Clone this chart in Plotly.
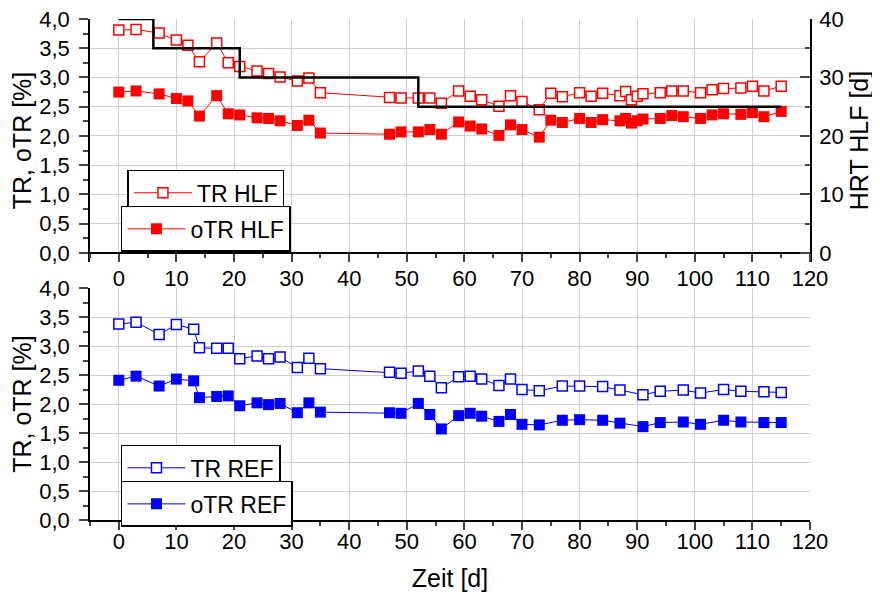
import plotly.graph_objects as go

# ---------------- data ----------------
hlf_days = [0, 3, 7, 10, 12, 14, 17, 19, 21, 24, 26, 28, 31, 33, 35, 47, 49, 52, 54, 56,
            59, 61, 63, 66, 68, 70, 73, 75, 77, 80, 82, 84, 87, 88, 89, 90, 91, 94, 96, 98,
            101, 103, 105, 108, 110, 112, 115]
tr_hlf = [3.81, 3.82, 3.76, 3.64, 3.55, 3.27, 3.59, 3.25, 3.19, 3.11, 3.07, 3.01, 2.94, 2.99, 2.74,
          2.66, 2.65, 2.65, 2.65, 2.56, 2.77, 2.68, 2.62, 2.51, 2.69, 2.59, 2.45, 2.73, 2.67, 2.74,
          2.68, 2.73, 2.69, 2.76, 2.62, 2.68, 2.72, 2.74, 2.77, 2.77, 2.74, 2.79, 2.81, 2.82, 2.85,
          2.77, 2.85]
otr_hlf = [2.75, 2.77, 2.72, 2.64, 2.60, 2.34, 2.69, 2.38, 2.36, 2.31, 2.30, 2.26, 2.18, 2.27, 2.05,
           2.03, 2.07, 2.07, 2.11, 2.03, 2.24, 2.17, 2.12, 2.01, 2.19, 2.11, 1.98, 2.27, 2.23, 2.30,
           2.23, 2.28, 2.26, 2.30, 2.22, 2.26, 2.29, 2.30, 2.35, 2.33, 2.30, 2.36, 2.38, 2.37, 2.40,
           2.33, 2.42]

hrt_days = [0, 6, 21, 52, 115]
hrt_vals = [40, 35, 30, 25, 25]

ref_days = [0, 3, 7, 10, 13, 14, 17, 19, 21, 24, 26, 28, 31, 33, 35, 47, 49, 52, 54, 56,
            59, 61, 63, 66, 68, 70, 73, 77, 80, 84, 87, 91, 94, 98, 101, 105, 108, 112, 115]
tr_ref = [3.38, 3.41, 3.20, 3.37, 3.29, 2.97, 2.96, 2.96, 2.78, 2.83, 2.78, 2.81, 2.63, 2.79, 2.61,
          2.55, 2.53, 2.57, 2.48, 2.28, 2.47, 2.48, 2.43, 2.32, 2.43, 2.25, 2.23, 2.31, 2.31,
          2.30, 2.24, 2.16, 2.22, 2.24, 2.19, 2.25, 2.22, 2.21, 2.20]
otr_ref = [2.41, 2.48, 2.31, 2.43, 2.40, 2.11, 2.13, 2.14, 1.97, 2.02, 1.99, 2.01, 1.85, 2.02, 1.86,
           1.85, 1.84, 2.01, 1.82, 1.57, 1.80, 1.84, 1.79, 1.70, 1.82, 1.65, 1.64, 1.72, 1.73,
           1.72, 1.67, 1.61, 1.68, 1.69, 1.65, 1.72, 1.69, 1.68, 1.68]

x_ticks = list(range(0, 121, 10))
RED = "#ff0000"
BLUE = "#0000ff"
FONT = "Liberation Sans, Arial, sans-serif"

fig = go.Figure()

fig.add_trace(go.Scatter(x=hlf_days, y=tr_hlf, mode="lines+markers", name="TR HLF",
                         xaxis="x", yaxis="y", legend="legend",
                         line=dict(color=RED, width=1),
                         marker=dict(symbol="square", size=10, color="white",
                                     line=dict(color=RED, width=1.5))))
fig.add_trace(go.Scatter(x=hlf_days, y=otr_hlf, mode="lines+markers", name="oTR HLF",
                         xaxis="x", yaxis="y", legend="legend2",
                         line=dict(color=RED, width=1),
                         marker=dict(symbol="square", size=11, color=RED,
                                     line=dict(color=RED, width=0))))
fig.add_trace(go.Scatter(x=hrt_days, y=hrt_vals, mode="lines", name="HRT HLF",
                         xaxis="x", yaxis="y2", showlegend=False,
                         line=dict(color="black", width=2.5, shape="hv")))
fig.add_trace(go.Scatter(x=ref_days, y=tr_ref, mode="lines+markers", name="TR REF",
                         xaxis="x2", yaxis="y3", legend="legend3",
                         line=dict(color=BLUE, width=1),
                         marker=dict(symbol="square", size=10, color="white",
                                     line=dict(color=BLUE, width=1.5))))
fig.add_trace(go.Scatter(x=ref_days, y=otr_ref, mode="lines+markers", name="oTR REF",
                         xaxis="x2", yaxis="y3", legend="legend4",
                         line=dict(color=BLUE, width=1),
                         marker=dict(symbol="square", size=11, color=BLUE,
                                     line=dict(color=BLUE, width=0))))

grid = "#cfcfcf"
tickfont = dict(size=22, family=FONT, color="black")
titlefont = dict(size=25, family=FONT, color="black")

xcommon = dict(range=[-5, 120], tickvals=x_ticks, ticks="outside", ticklen=8, tickwidth=1.5,
               minor=dict(dtick=5, tick0=0, ticks="outside", ticklen=4, tickwidth=1.5, showgrid=False),
               showline=True, linecolor="black", linewidth=1.5, showgrid=True, gridcolor=grid,
               gridwidth=1, zeroline=False, tickfont=tickfont, automargin=False,
               ticklabeloverflow="allow")
ycommon = dict(tick0=0, dtick=0.5, tickformat=".1f", ticks="outside", ticklen=9, tickwidth=1.5,
               minor=dict(dtick=0.25, tick0=0, ticks="outside", ticklen=5, tickwidth=1.5, showgrid=False),
               showline=True, linecolor="black", linewidth=1.5, showgrid=True, gridcolor=grid,
               gridwidth=1, zeroline=False, tickfont=tickfont, automargin=False,
               ticklabelstandoff=5, ticklabeloverflow="allow",
               title=dict(text="TR, oTR [%]", font=titlefont, standoff=2))

leg = dict(xanchor="left", yanchor="top", bordercolor="black", borderwidth=1.5,
           bgcolor="white", font=dict(size=23, family=FONT, color="black"),
           itemwidth=58, tracegroupgap=0)

fig.update_layout(
    width=880, height=601,
    margin=dict(l=82, r=78, t=11, b=89, autoexpand=False),
    paper_bgcolor="white", plot_bgcolor="white",
    separators=",.",
    font=dict(family=FONT, color="black"),
    xaxis=dict(domain=[0, 1], anchor="free", position=0.533, ticklabelstandoff=-2, **xcommon),
    yaxis=dict(domain=[0.515, 1], range=[-0.154, 4.0], anchor="x", **ycommon),
    yaxis2=dict(overlaying="y", side="right", anchor="x", range=[-1.54, 40], tick0=0, dtick=10,
                ticks="inside", ticklen=10, tickwidth=1.5,
                minor=dict(dtick=5, tick0=0, ticks="inside", ticklen=5, tickwidth=1.5, showgrid=False),
                showline=True, linecolor="black", linewidth=1.5, showgrid=False, zeroline=False,
                tickfont=tickfont, automargin=False, ticklabelstandoff=3, ticklabeloverflow="allow",
                title=dict(text="HRT HLF [d]", font=titlefont, standoff=8)),
    xaxis2=dict(domain=[0, 1], anchor="y3", ticklabelstandoff=-7,
                title=dict(text="Zeit [d]", font=titlefont, standoff=16), **xcommon),
    yaxis3=dict(domain=[0, 0.463], range=[0, 4.0], anchor="x2", **ycommon),
    legend=dict(x=0.052, y=0.699, **leg),
    legend2=dict(x=0.043, y=0.627, **leg),
    legend3=dict(x=0.043, y=0.150, **leg),
    legend4=dict(x=0.043, y=0.078, **leg),
)

fig.write_html("out.html")
